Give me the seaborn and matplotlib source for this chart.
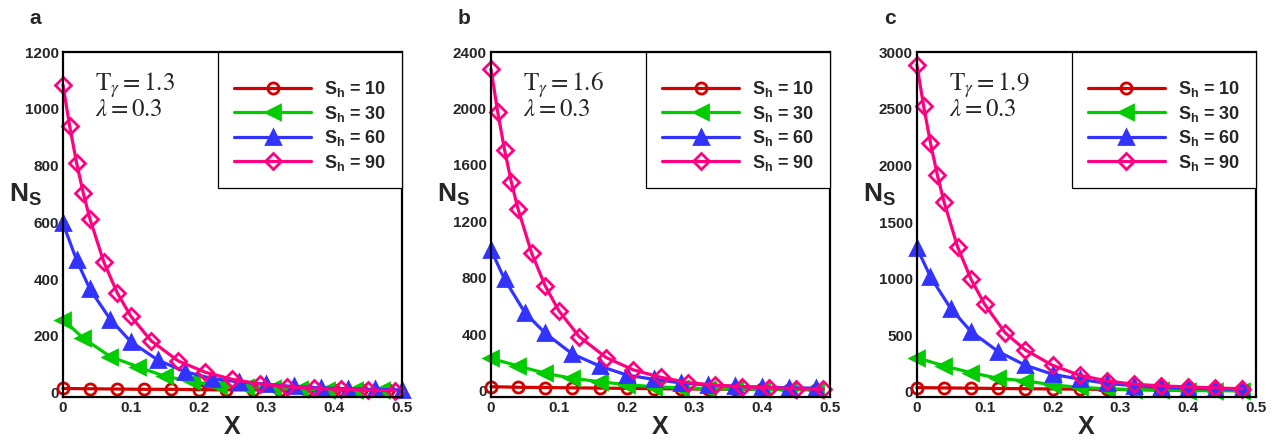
import numpy as np
import pandas as pd
import matplotlib
matplotlib.use('Agg')
import matplotlib.pyplot as plt
from matplotlib.ticker import MultipleLocator
import seaborn as sns

sns.set_theme(style='white')
plt.rcParams['font.family'] = ['Liberation Sans', 'DejaVu Sans']
plt.rcParams['mathtext.fontset'] = 'custom'
plt.rcParams['mathtext.rm'] = 'Liberation Sans:bold'
plt.rcParams['mathtext.bf'] = 'Liberation Sans:bold'
plt.rcParams['mathtext.it'] = 'Liberation Sans:bold'

# ---- data ----
sh_labels = ['10', '30', '60', '90']
panel_tags = ['a', 'b', 'c']
t_gamma = ['1.3', '1.6', '1.9']
lam = '0.3'

x_step04 = [0, 0.04, 0.08, 0.12, 0.16, 0.2, 0.24, 0.28, 0.32, 0.36, 0.4, 0.44, 0.48]

# panel a
xa_10 = x_step04
ya_10 = [15, 14, 13, 12, 12, 11, 10, 10, 9, 9, 8, 8, 8]
xa_30 = [0, 0.03, 0.07, 0.11, 0.15, 0.19, 0.23, 0.27, 0.31, 0.35, 0.39, 0.43, 0.47]
ya_30 = [258, 192, 127, 92, 58, 40, 25, 19, 15, 12, 10, 9, 8]
xa_60 = [0, 0.02, 0.04, 0.07, 0.1, 0.14, 0.18, 0.22, 0.26, 0.3, 0.34, 0.38, 0.42, 0.46, 0.5]
ya_60 = [597, 468, 364, 258, 180, 115, 74, 50, 38, 30, 22, 17, 14, 12, 10]
xa_90 = [0, 0.01, 0.02, 0.03, 0.04, 0.06, 0.08, 0.1, 0.13, 0.17, 0.21, 0.25, 0.29, 0.33, 0.37, 0.41, 0.45, 0.49]
ya_90 = [1085, 938, 811, 703, 611, 462, 352, 270, 183, 112, 72, 47, 31, 21, 15, 12, 9, 7]

# panel b
xb_10 = x_step04
yb_10 = [28, 24, 22, 20, 18, 16, 14, 12, 11, 10, 9, 8, 7]
xb_30 = x_step04
yb_30 = [229, 175, 123, 87, 64, 42, 28, 20, 15, 12, 10, 8, 7]
xb_60 = [0, 0.02, 0.05, 0.08, 0.12, 0.16, 0.2, 0.24, 0.28, 0.32, 0.36, 0.4, 0.44, 0.48]
yb_60 = [998, 790, 553, 407, 260, 175, 111, 80, 55, 40, 30, 25, 20, 18]
xb_90 = [0, 0.01, 0.02, 0.03, 0.04, 0.06, 0.08, 0.1, 0.13, 0.17, 0.21, 0.25, 0.29, 0.33, 0.37, 0.41, 0.45, 0.49]
yb_90 = [2279, 1972, 1707, 1478, 1286, 974, 742, 567, 383, 234, 147, 95, 57, 40, 28, 21, 14, 10]

# panel c
xc_10 = x_step04
yc_10 = [38, 35, 33, 30, 28, 26, 24, 22, 20, 18, 16, 15, 14]
xc_30 = x_step04
yc_30 = [303, 229, 170, 120, 97, 62, 40, 28, 20, 15, 12, 10, 9]
xc_60 = [0, 0.02, 0.05, 0.08, 0.12, 0.16, 0.2, 0.24, 0.28, 0.32, 0.36, 0.4, 0.44, 0.48]
yc_60 = [1272, 1017, 735, 532, 356, 235, 156, 112, 75, 55, 40, 32, 27, 22]
xc_90 = [0, 0.01, 0.02, 0.03, 0.04, 0.06, 0.08, 0.1, 0.13, 0.16, 0.2, 0.24, 0.28, 0.32, 0.36, 0.4, 0.44, 0.48]
yc_90 = [2889, 2521, 2198, 1919, 1678, 1281, 993, 773, 523, 370, 235, 147, 97, 68, 53, 44, 35, 28]

panels = [
    [(xa_10, ya_10), (xa_30, ya_30), (xa_60, ya_60), (xa_90, ya_90)],
    [(xb_10, yb_10), (xb_30, yb_30), (xb_60, yb_60), (xb_90, yb_90)],
    [(xc_10, yc_10), (xc_30, yc_30), (xc_60, yc_60), (xc_90, yc_90)],
]
y_max = [1200, 2400, 3000]
y_min = [-15, -45, -45]
y_major = [200, 400, 500]

# ---- styles ----
colors = ['#d40000', '#00cc00', '#3333ff', '#ff0080']
markers = ['o', '<', '^', 'D']
msizes = [8, 10, 10, 8.5]
filled = [False, True, True, False]

fig = plt.figure(figsize=(12.77, 4.41), dpi=100)
lefts = [0.0493, 0.3845, 0.718]

for i, series in enumerate(panels):
    ax = fig.add_axes([lefts[i], 0.0998, 0.2655, 0.782])
    for j, (xs, ys) in enumerate(series):
        df = pd.DataFrame({'x': xs, 'y': ys})
        fc = colors[j] if filled[j] else 'none'
        sns.lineplot(data=df, x='x', y='y', ax=ax, color=colors[j], lw=2.3,
                     marker=markers[j], markersize=msizes[j],
                     markerfacecolor=fc, markeredgecolor=colors[j],
                     markeredgewidth=2.0, sort=False, estimator=None,
                     label='S$_\\mathbf{h}$ = ' + sh_labels[j], clip_on=False)

    ax.set_xlim(0, 0.5)
    ax.set_ylim(y_min[i], y_max[i])
    ax.xaxis.set_major_locator(MultipleLocator(0.1))
    ax.xaxis.set_minor_locator(MultipleLocator(0.02))
    ax.yaxis.set_major_locator(MultipleLocator(y_major[i]))
    ax.yaxis.set_minor_locator(MultipleLocator(y_major[i] / 5))
    ax.xaxis.set_major_formatter(matplotlib.ticker.FuncFormatter(
        lambda v, p: '0' if abs(v) < 1e-9 else ('%.1f' % v)))
    ax.tick_params(which='both', direction='in', top=False, right=False,
                   labelsize=11, pad=3)
    ax.tick_params(which='major', length=6, width=1.2)
    ax.tick_params(which='minor', length=3.5, width=1.0)
    for lab in ax.get_xticklabels() + ax.get_yticklabels():
        lab.set_fontweight('bold')
    for sp in ax.spines.values():
        sp.set_linewidth(1.6)
        sp.set_color('black')

    ax.set_xlabel('X', fontsize=18, fontweight='bold', labelpad=0)
    ax.set_ylabel('')
    ax.text(-0.16, 0.585, 'N$_\\mathbf{S}$', transform=ax.transAxes,
            fontsize=19, fontweight='bold', ha='left', va='center')

    note = (r'$\mathrm{T}_{\gamma} = ' + t_gamma[i] + '$\n'
            + r'$\lambda = ' + lam + '$')
    ax.text(0.095, 0.948, note, transform=ax.transAxes, fontsize=18,
            va='top', ha='left', linespacing=0.85,
            math_fontfamily='stix', fontweight='normal')

    leg = ax.legend(loc='upper right', bbox_to_anchor=(1.0, 1.0),
                    borderaxespad=0, fancybox=False, framealpha=1,
                    edgecolor='black', fontsize=13, handlelength=4.3,
                    handletextpad=0.72, labelspacing=0.25, borderpad=0.85,
                    numpoints=1, title=' ', title_fontsize=5)
    leg.get_frame().set_linewidth(0.9)
    for t in leg.get_texts():
        t.set_fontweight('bold')

    fig.text(lefts[i] - 0.026, 0.957, panel_tags[i], fontsize=15,
             fontweight='bold', ha='left', va='center')

fig.savefig('out.png', dpi=100)
